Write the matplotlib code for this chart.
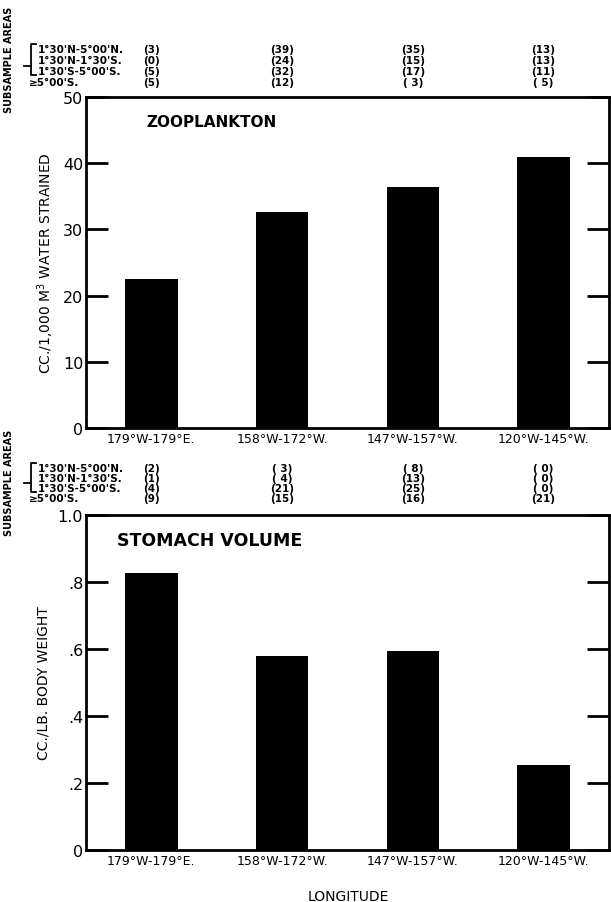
import matplotlib
matplotlib.use("Agg")
import matplotlib.pyplot as plt
import matplotlib.transforms as mtransforms
from matplotlib.lines import Line2D

# ---- Datos ----
longitudes = ["179°W-179°E.", "158°W-172°W.", "147°W-157°W.", "120°W-145°W."]
zooplankton = [22.5, 32.7, 36.4, 41.0]          # cc/1,000 m3 water strained
stomach_volume = [0.828, 0.58, 0.595, 0.255]    # cc/lb body weight

areas = ["1°30'N-5°00'N.", "1°30'N-1°30'S.", "1°30'S-5°00'S.", "≥5°00'S."]
n_zoo = [["(3)", "(39)", "(35)", "(13)"],
         ["(0)", "(24)", "(15)", "(13)"],
         ["(5)", "(32)", "(17)", "(11)"],
         ["(5)", "(12)", "( 3)", "( 5)"]]
n_stomach = [["(2)", "( 3)", "( 8)", "( 0)"],
             ["(1)", "( 4)", "(13)", "( 0)"],
             ["(4)", "(21)", "(25)", "( 0)"],
             ["(9)", "(15)", "(16)", "(21)"]]

zoo_ticks = [0, 10, 20, 30, 40, 50]
zoo_ticklabels = ["0", "10", "20", "30", "40", "50"]
sto_ticks = [0, 0.2, 0.4, 0.6, 0.8, 1.0]
sto_ticklabels = ["0", ".2", ".4", ".6", ".8", "1.0"]

W, H = 611, 903
plt.rcParams['font.family'] = ['DejaVu Sans']


def fx(px):
    return px / W


def fy(py):
    return 1 - py / H


fig = plt.figure(figsize=(W / 100, H / 100), dpi=100)
fig.patch.set_facecolor('white')


def panel(top, bottom, values, ticks, ticklabels, ylim, title, title_x, title_size, ylabel):
    ax = fig.add_axes([fx(86), fy(bottom), fx(609) - fx(86), fy(top) - fy(bottom)])
    x = list(range(len(values)))
    ax.bar(x, values, width=0.4, color='black')
    ax.set_xlim(-0.5, 3.5)
    ax.set_ylim(*ylim)
    ax.set_xticks(x)
    ax.set_xticklabels(longitudes, fontsize=9)
    ax.tick_params(axis='x', length=0, pad=3)
    ax.set_yticks(ticks)
    ax.set_yticklabels(ticklabels, fontsize=11.5)
    ax.tick_params(axis='y', direction='in', length=16, width=2, pad=2,
                   left=True, right=True)
    for s in ax.spines.values():
        s.set_linewidth(2)
    ax.text(title_x, 0.925, title, transform=ax.transAxes, fontsize=title_size,
            fontweight='bold', va='center', ha='left')
    ax.set_ylabel(ylabel, fontsize=10, labelpad=5)
    return ax


ax1 = panel(98, 429, zooplankton, zoo_ticks, zoo_ticklabels, (0, 50),
            "ZOOPLANKTON", 0.115, 11, "CC./1,000 M$^3$ WATER STRAINED")
ax2 = panel(516, 851, stomach_volume, sto_ticks, sto_ticklabels, (0, 1.0),
            "STOMACH VOLUME", 0.06, 12.5, "CC./LB. BODY WEIGHT")

fig.text(fx(348), fy(897), "LONGITUDE", fontsize=10, ha='center', va='center')


# ---- Bloques de submuestras ----
def subsample_block(ax, rows_y, counts, label_y):
    trans = mtransforms.blended_transform_factory(ax.transData, fig.transFigure)
    for i, (area, yy) in enumerate(zip(areas, rows_y)):
        x0 = 29 if area.startswith("≥") else 38
        fig.text(fx(x0), fy(yy), area, fontsize=7.5, fontweight='bold',
                 ha='left', va='center')
        for j in range(4):
            ax.text(j, fy(yy), counts[i][j], transform=trans, fontsize=7.5,
                    fontweight='bold', ha='center', va='center')
    # corchete
    yt, yb = rows_y[0] - 5, rows_y[2] + 4
    ym = (rows_y[1] + rows_y[2]) / 2
    for xs, ys in [((36, 31, 31, 36), (yt, yt, yb, yb)), ((24, 31), (ym, ym))]:
        fig.add_artist(Line2D([fx(v) for v in xs], [fy(v) for v in ys],
                              color='black', lw=1.3))
    fig.text(fx(9), fy(label_y), "SUBSAMPLE AREAS", rotation=90, fontsize=7,
             fontweight='bold', ha='center', va='center')


subsample_block(ax1, [50, 61, 72, 83], n_zoo, 60)
subsample_block(ax2, [469, 479, 489, 499], n_stomach, 483)

fig.savefig("out.png", dpi=100, facecolor='white')
